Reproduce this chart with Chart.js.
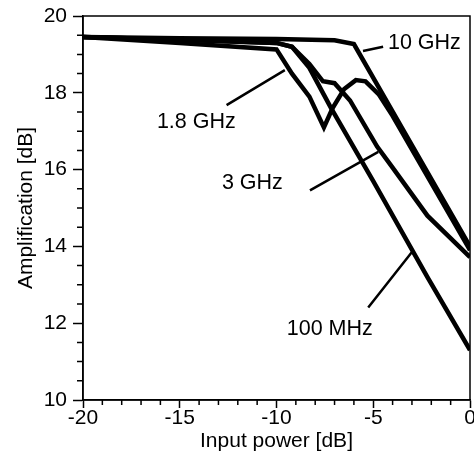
<!DOCTYPE html>
<html lang="en">
<head>
    <meta charset="UTF-8">
    <title>Amplification vs Input power</title>
    <script src="https://cdn.jsdelivr.net/npm/chart.js"></script>
    <style>
        body {
            margin: 0;
            background-color: white;
        }
        canvas {
            display: block;
        }
    </style>
</head>
<body>
    <canvas id="ampChart" width="474" height="468"></canvas>

    <script>
        // values
        var x100MHz = [-20, -15, -10, -9.2, -8.3, -7.2, -5, -2.2, 0];
        var y100MHz = [19.45, 19.38, 19.3, 19.2, 18.65, 17.62, 15.7, 13.2, 11.3];

        var x1800MHz = [-20, -15, -10, -9.2, -8.3, -7.55, -7.1, -6.5, -5.9, -5.4, -4.7, -4, 0];
        var y1800MHz = [19.45, 19.3, 19.13, 18.5, 17.9, 17.1, 17.6, 18.1, 18.33, 18.3, 17.95, 17.4, 13.9];

        var x3GHz = [-20, -15, -10, -9.2, -8.3, -7.6, -7.0, -6.2, -4.8, -4.0, -2.2, 0];
        var y3GHz = [19.45, 19.38, 19.3, 19.2, 18.75, 18.3, 18.25, 17.8, 16.6, 16.05, 14.8, 13.72];

        var x10GHz = [-20, -15, -10, -7, -6, 0];
        var y10GHz = [19.45, 19.42, 19.4, 19.37, 19.27, 14.0];

        var xTickStep = 5;
        var yTickStep = 2;

        // curve labels with their pointer lines (data units)
        var curveNotes = [
            { text: '10 GHz', at: [-4.24, 19.3], from: [-5.53, 19.09], to: [-4.49, 19.2] },
            { text: '1.8 GHz', at: [-16.18, 17.23], from: [-9.57, 18.59], to: [-12.58, 17.68] },
            { text: '3 GHz', at: [-12.82, 15.64], from: [-4.74, 16.46], to: [-8.27, 15.46] },
            { text: '100 MHz', at: [-9.47, 11.85], from: [-3.01, 13.85], to: [-5.26, 12.41] }
        ];

        var fontFamily = "'Liberation Sans', Arial, sans-serif";

        function toPoints(xs, ys) {
            return xs.map(function (x, i) { return { x: x, y: ys[i] }; });
        }

        function curve(xs, ys) {
            return {
                data: toPoints(xs, ys),
                borderColor: 'black',
                borderWidth: 4.5,
                pointRadius: 0,
                tension: 0,
                fill: false
            };
        }

        // frame, minor ticks and curve labels
        var decorPlugin = {
            id: 'decor',
            afterDraw: function (chart) {
                var ctx = chart.ctx;
                var area = chart.chartArea;
                var xs = chart.scales.x;
                var ys = chart.scales.y;
                ctx.save();
                ctx.strokeStyle = 'black';
                ctx.lineWidth = 1.5;
                ctx.strokeRect(area.left, area.top, area.right - area.left, area.bottom - area.top);

                ctx.beginPath();
                for (var v = -20; v <= 0; v += 1) {
                    if (v % 5 === 0) continue;
                    var px = xs.getPixelForValue(v);
                    ctx.moveTo(px, area.bottom);
                    ctx.lineTo(px, area.bottom + 5);
                }
                for (var w = 10; w <= 20; w += 0.5) {
                    if (w % 2 === 0) continue;
                    var py = ys.getPixelForValue(w);
                    ctx.moveTo(area.left, py);
                    ctx.lineTo(area.left - 6, py);
                }
                ctx.stroke();

                ctx.lineWidth = 2.5;
                ctx.beginPath();
                curveNotes.forEach(function (n) {
                    ctx.moveTo(xs.getPixelForValue(n.from[0]), ys.getPixelForValue(n.from[1]));
                    ctx.lineTo(xs.getPixelForValue(n.to[0]), ys.getPixelForValue(n.to[1]));
                });
                ctx.stroke();

                ctx.fillStyle = 'black';
                ctx.font = '21.5px ' + fontFamily;
                ctx.textAlign = 'left';
                ctx.textBaseline = 'middle';
                curveNotes.forEach(function (n) {
                    ctx.fillText(n.text, xs.getPixelForValue(n.at[0]), ys.getPixelForValue(n.at[1]));
                });
                ctx.restore();
            }
        };

        var ctx = document.getElementById('ampChart').getContext('2d');
        var ampChart = new Chart(ctx, {
            type: 'line',
            data: {
                datasets: [
                    curve(x100MHz, y100MHz),
                    curve(x1800MHz, y1800MHz),
                    curve(x3GHz, y3GHz),
                    curve(x10GHz, y10GHz)
                ]
            },
            options: {
                responsive: false,
                animation: false,
                devicePixelRatio: 1,
                layout: {
                    padding: { top: 16, right: 4, left: 14, bottom: 14 }
                },
                plugins: {
                    legend: { display: false },
                    tooltip: { enabled: false }
                },
                scales: {
                    x: {
                        type: 'linear',
                        min: -20,
                        max: 0,
                        afterFit: function (scale) {
                            scale.height = 54;
                            scale.paddingLeft = 0;
                            scale.paddingRight = 0;
                        },
                        grid: {
                            drawOnChartArea: false,
                            tickLength: 8,
                            tickColor: 'black',
                            tickWidth: 1.5
                        },
                        border: { color: 'black', width: 1.5 },
                        ticks: {
                            stepSize: xTickStep,
                            color: 'black',
                            padding: -2,
                            maxRotation: 0,
                            font: { family: fontFamily, size: 21 }
                        },
                        title: {
                            display: true,
                            text: 'Input power [dB]',
                            color: 'black',
                            padding: { top: 0, bottom: 0 },
                            font: { family: fontFamily, size: 21 }
                        }
                    },
                    y: {
                        min: 10,
                        max: 20,
                        afterFit: function (scale) {
                            scale.width = 69;
                            scale.paddingTop = 0;
                            scale.paddingBottom = 0;
                        },
                        grid: {
                            drawOnChartArea: false,
                            tickLength: 10,
                            tickColor: 'black',
                            tickWidth: 1.5
                        },
                        border: { color: 'black', width: 1.5 },
                        ticks: {
                            stepSize: yTickStep,
                            color: 'black',
                            padding: 6,
                            font: { family: fontFamily, size: 21 }
                        },
                        title: {
                            display: true,
                            text: 'Amplification [dB]',
                            color: 'black',
                            padding: { top: 0, bottom: 0 },
                            font: { family: fontFamily, size: 21 }
                        }
                    }
                }
            },
            plugins: [decorPlugin]
        });
    </script>
</body>
</html>
